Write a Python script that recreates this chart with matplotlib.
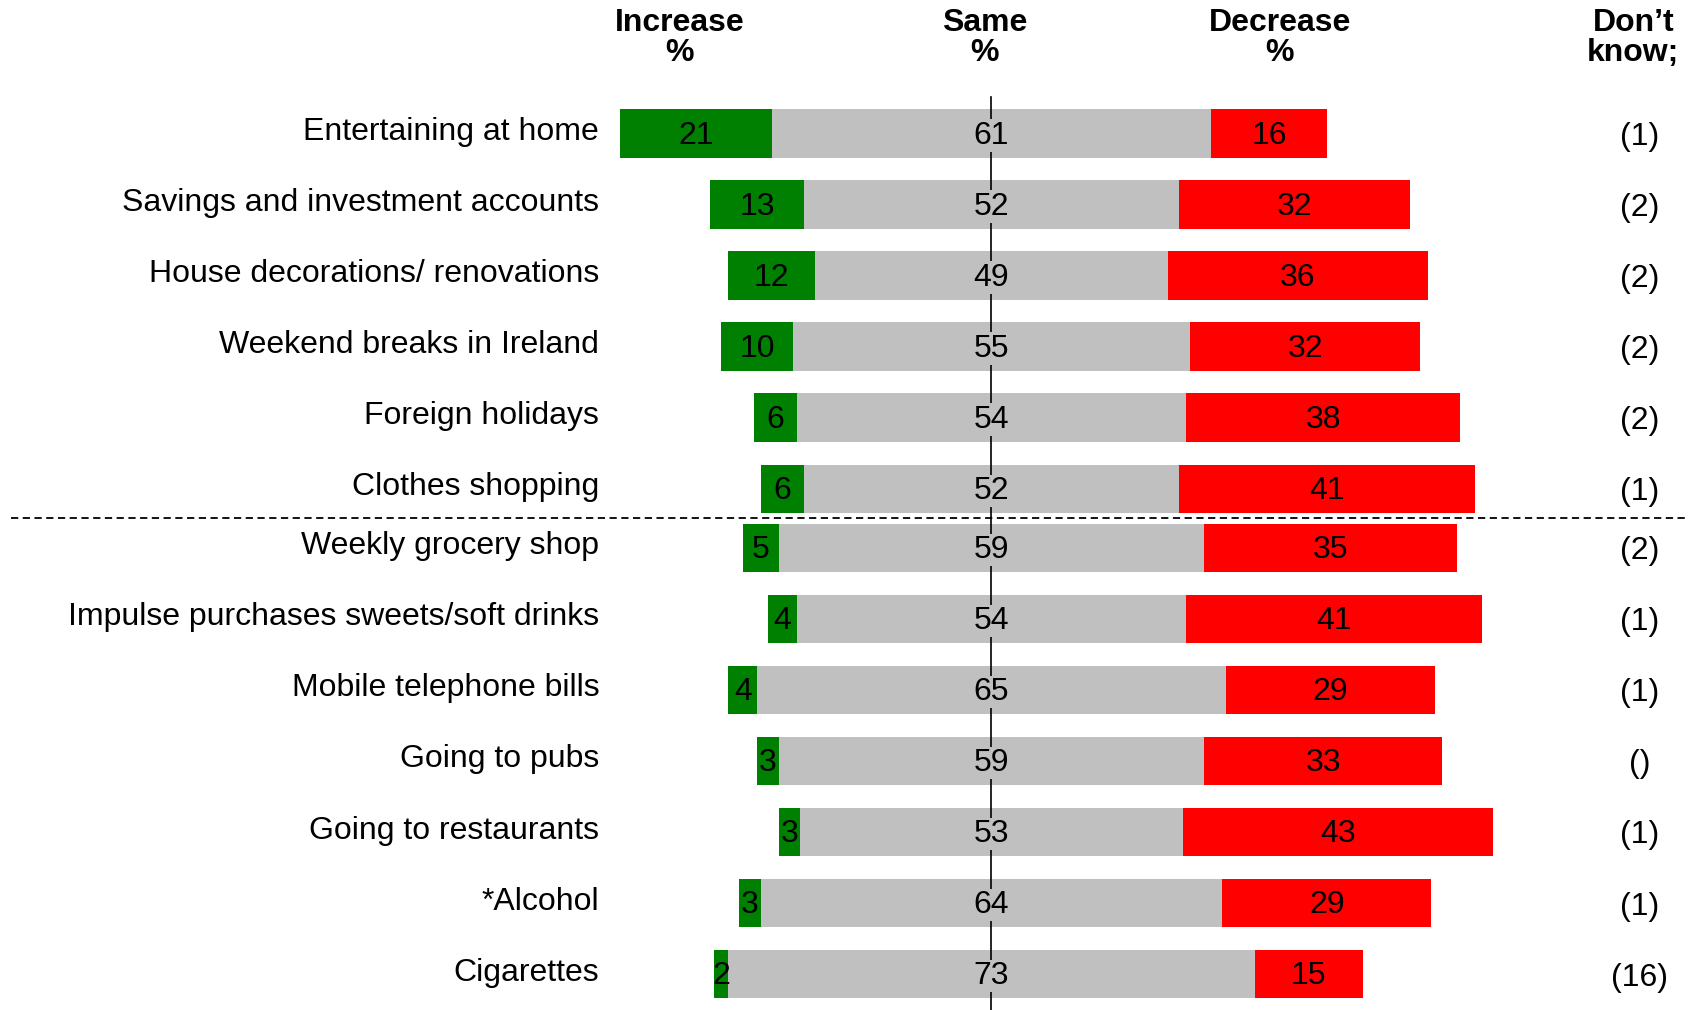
import numpy as np
import matplotlib
matplotlib.use("Agg")
import matplotlib.pyplot as plt

plt.rcParams['font.family'] = ['Liberation Sans', 'DejaVu Sans']

categories = ['Entertaining at home', 'Savings and investment accounts',
              'House decorations/ renovations', 'Weekend breaks in Ireland',
              'Foreign holidays', 'Clothes shopping', 'Weekly grocery shop',
              'Impulse purchases sweets/soft drinks', 'Mobile telephone bills',
              'Going to pubs', 'Going to restaurants', '*Alcohol', 'Cigarettes']
increase = [21, 13, 12, 10, 6, 6, 5, 4, 4, 3, 3, 3, 2]
same = [61, 52, 49, 55, 54, 52, 59, 54, 65, 59, 53, 64, 73]
decrease = [16, 32, 36, 32, 38, 41, 35, 41, 29, 33, 43, 29, 15]
dont_know = ['(1)', '(2)', '(2)', '(2)', '(2)', '(1)', '(2)', '(1)', '(1)',
             '()', '(1)', '(1)', '(16)']
headers = ['Increase\n%', 'Same\n%', 'Decrease\n%', 'Don\u2019t\nknow;']

GREEN, GREY, RED = '#008000', '#C0C0C0', '#FF0000'
FS = 23

increase = np.array(increase)
same = np.array(same)
decrease = np.array(decrease)

# first six rows, then a small gap under the dashed divider
n = len(categories)
ypos = np.arange(n) - np.where(np.arange(n) >= 6, 0.167, 0.0)

fig = plt.figure(figsize=(16.88, 10.10), dpi=100)
ax = fig.add_axes([0, 0, 1, 1])
ax.set_xlim(-137.5, 96.6)
ax.set_ylim(12.34, -1.88)
ax.axis('off')

h = 0.68
left_same = -same / 2
left_inc = left_same - increase
left_dec = same / 2

ax.barh(ypos, increase, left=left_inc, height=h, color=GREEN, zorder=2)
ax.barh(ypos, same, left=left_same, height=h, color=GREY, zorder=2)
ax.barh(ypos, decrease, left=left_dec, height=h, color=RED, zorder=2)

# centre line
ax.plot([0, 0], [-0.51, 12.34], color='black', lw=1.2, zorder=3)

# divider
ax.plot([-136, 96.6], [5.415, 5.415], color='black', lw=1.3,
        linestyle=(0, (4, 2.5)), zorder=3)

for i, y in enumerate(ypos):
    ax.text(left_inc[i] + increase[i] / 2, y + 0.03, str(increase[i]),
            ha='center', va='center', fontsize=FS, zorder=4)
    ax.text(0, y + 0.03, str(same[i]), ha='center', va='center', fontsize=FS,
            zorder=4, bbox=dict(facecolor=GREY, edgecolor='none', pad=1))
    ax.text(left_dec[i] + decrease[i] / 2, y + 0.03, str(decrease[i]),
            ha='center', va='center', fontsize=FS, zorder=4)
    ax.text(-54.4, y - 0.02, categories[i], ha='right', va='center',
            fontsize=FS)
    ax.text(89.9, y + 0.05, dont_know[i], ha='center', va='center',
            fontsize=FS)

for x, t in zip([-43.2, -0.9, 40, 89], headers):
    ax.text(x, -1.77, t, ha='center', va='top', fontsize=FS,
            fontweight='bold', linespacing=1.0)

fig.savefig('out.png', dpi=100)
